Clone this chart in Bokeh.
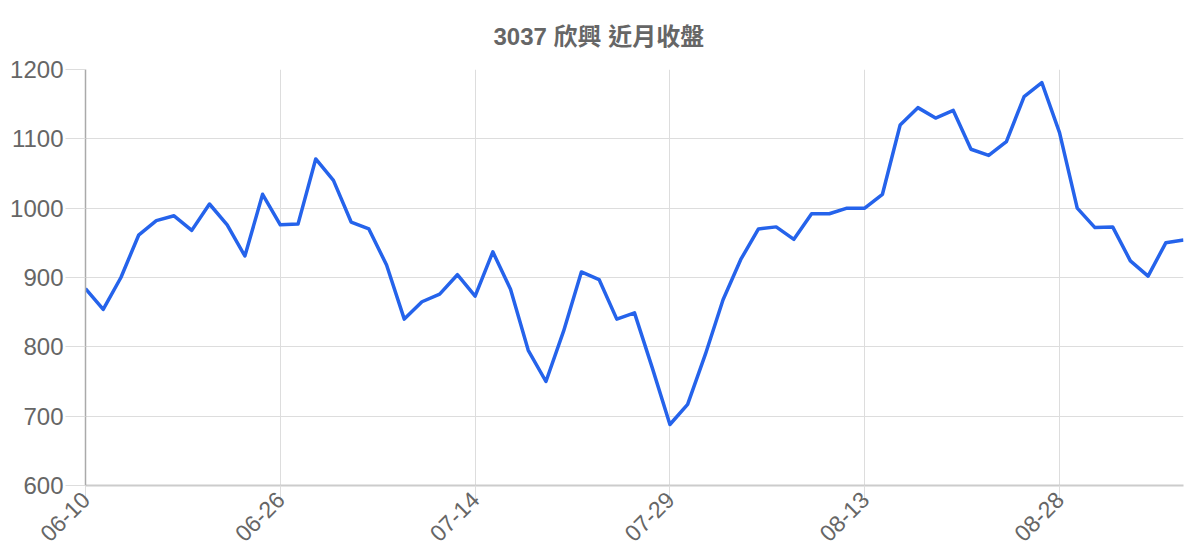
from math import pi
from bokeh.plotting import figure
from bokeh.models import Range1d, FixedTicker, ColumnDataSource
from bokeh.embed import file_html
from bokeh.resources import INLINE

title_text = "3037 欣興 近月收盤"
closes = [884, 854, 900, 961, 982, 989, 968, 1006, 976, 931,
          1020, 976, 977, 1071, 1040, 980, 970, 918, 840, 865,
          876, 904, 873, 937, 883, 795, 750, 823, 908, 897,
          840, 849, 770, 688, 717, 789, 868, 926, 970, 973,
          955, 992, 992, 1000, 1000, 1020, 1120, 1145, 1130, 1141,
          1085, 1076, 1096, 1161, 1181, 1109, 1000, 972, 973, 924,
          902, 950, 954]
tick_labels = ["06-10", "06-26", "07-14", "07-29", "08-13", "08-28"]
y_ticks = [600, 700, 800, 900, 1000, 1100, 1200]

idx = list(range(len(closes)))
tick_pos = list(range(0, len(closes), 11))[:len(tick_labels)]

src = ColumnDataSource(dict(x=idx, y=closes))

p = figure(width=1184, height=552, output_backend="svg", toolbar_location=None,
           x_range=Range1d(0, len(closes) - 1), y_range=Range1d(600, 1200),
           min_border_left=85, min_border_right=1, min_border_top=69,
           min_border_bottom=60, outline_line_color=None)

p.title.text = title_text
p.title.align = "left"
p.title.offset = 408
p.title.standoff = 39
p.title.text_font = "Liberation Sans, Noto Sans CJK TC"
p.title.text_font_size = "24px"
p.title.text_font_style = "bold"
p.title.text_color = "#666666"

p.line("x", "y", source=src, line_color="#2563eb", line_width=3.5, line_join="round")

p.xaxis.ticker = FixedTicker(ticks=tick_pos)
p.xaxis.major_label_overrides = {pos: lab for pos, lab in zip(tick_pos, tick_labels)}
p.xaxis.major_label_orientation = pi / 4
p.xaxis.minor_tick_line_color = None
p.xaxis.major_tick_in = 0
p.xaxis.major_tick_out = 19
p.xaxis.major_tick_line_color = "#dddddd"
p.xaxis.axis_line_color = "#cccccc"
p.xaxis.axis_line_width = 2
p.xaxis.major_label_text_font = "Liberation Sans"
p.xaxis.major_label_text_font_size = "23px"
p.xaxis.major_label_text_line_height = 1.0
p.xaxis.major_label_text_color = "#666666"
p.xaxis.major_label_standoff = -9

p.yaxis.ticker = FixedTicker(ticks=y_ticks)
p.yaxis.minor_tick_line_color = None
p.yaxis.major_tick_in = 0
p.yaxis.major_tick_out = 20
p.yaxis.major_tick_line_color = "#dddddd"
p.yaxis.axis_line_color = "#aaaaaa"
p.yaxis.axis_line_width = 1.5
p.yaxis.major_label_text_font = "Liberation Sans"
p.yaxis.major_label_text_font_size = "24px"
p.yaxis.major_label_text_color = "#666666"
p.yaxis.major_label_standoff = 2

p.xgrid.ticker = FixedTicker(ticks=tick_pos)
p.xgrid.grid_line_color = "#dddddd"
p.ygrid.grid_line_color = "#dddddd"

open("out.html", "w").write(file_html(p, INLINE))
